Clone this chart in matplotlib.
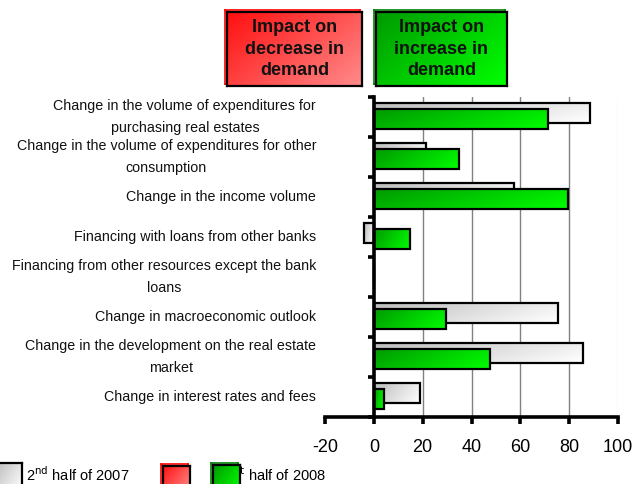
import numpy as np
import matplotlib
matplotlib.use("Agg")
import matplotlib.pyplot as plt
from matplotlib.colors import LinearSegmentedColormap
from matplotlib.patches import Rectangle

plt.rcParams['font.family'] = ['Liberation Sans', 'DejaVu Sans']

categories = [
    "Change in the volume of expenditures for\npurchasing real estates",
    "Change in the volume of expenditures for other\nconsumption",
    "Change in the income volume",
    "Financing with loans from other banks",
    "Financing from other resources except the bank\nloans",
    "Change in macroeconomic outlook",
    "Change in the development on the real estate\nmarket",
    "Change in interest rates and fees",
]
h2_2007 = [88.5, 21.5, 57.5, -4, 0, 75.5, 85.5, 19]
h1_2008 = [71.5, 35, 79.5, 15, 0, 29.5, 47.5, 4]
xticks = [-20, 0, 20, 40, 60, 80, 100]

W, H = 634, 484
fig = plt.figure(figsize=(W / 100, H / 100), dpi=100)

def fx(px):
    return px / W

def fy(py):
    return 1 - py / H

ax = fig.add_axes([fx(325), fy(416.7), fx(618) - fx(325), fy(97) - fy(416.7)])

gray_cmap = LinearSegmentedColormap.from_list("g", ["#bdbdbd", "#ffffff"])
green_cmap = LinearSegmentedColormap.from_list("gr", ["#009a00", "#00ff00"])
red_cmap = LinearSegmentedColormap.from_list("r", ["#ff1010", "#ff8a8a"])

yy = np.arange(len(categories))
gray_bars = ax.barh(yy - 0.1, h2_2007, height=0.5, facecolor='none',
                    edgecolor='black', linewidth=1.6, zorder=4)
green_bars = ax.barh(yy + 0.05, h1_2008, height=0.5, facecolor='none',
                     edgecolor='black', linewidth=1.6, zorder=6)

nx, ny = 64, 16
gx, gy = np.meshgrid(np.linspace(0, 1, nx), np.linspace(0, 1, ny))
grad = np.clip(0.75 * gx + 0.25 * gy, 0, 1)

def fill_gradient(bars, cmap, z):
    for p in bars.patches:
        w = p.get_width()
        if w == 0:
            continue
        x0, y0 = p.get_x(), p.get_y()
        hgt = p.get_height()
        xa, xb = min(x0, x0 + w), max(x0, x0 + w)
        back = Rectangle((xa, y0), xb - xa, hgt, facecolor='white',
                         edgecolor='none', zorder=z - 0.5)
        ax.add_patch(back)
        im = ax.imshow(grad, extent=[xa, xb, y0 + hgt, y0], cmap=cmap,
                       aspect='auto', interpolation='bilinear', zorder=z)
        im.set_clip_path(p)

fill_gradient(gray_bars, gray_cmap, 3)
fill_gradient(green_bars, green_cmap, 5)

ax.set_xlim(-20, 100)
ax.set_ylim(len(categories) - 0.5, -0.5)

for xv in [20, 40, 60, 80]:
    ax.axvline(xv, color='#808080', linewidth=1.0, zorder=1)
ax.axvline(100, color='#e6e6e6', linewidth=1.0, zorder=1)

for s in ['top', 'right']:
    ax.spines[s].set_visible(False)
ax.spines['left'].set_position(('data', 0))
ax.spines['left'].set_linewidth(2.6)
ax.spines['left'].set_zorder(8)
ax.spines['bottom'].set_linewidth(2.6)
ax.spines['bottom'].set_zorder(8)

ax.set_xticks(xticks)
ax.set_xticklabels([str(v) for v in xticks], fontsize=13)
ax.tick_params(axis='x', direction='out', length=5, width=2.6, pad=11)
ax.set_yticks(np.arange(-0.5, len(categories) + 0.5, 1.0))
ax.set_yticklabels([])
ax.tick_params(axis='y', direction='out', length=4, width=2.6)

for i, lab in enumerate(categories):
    ax.text(-0.03, i, lab, transform=ax.get_yaxis_transform(), ha='right',
            va='center', multialignment='center', fontsize=10.3,
            linespacing=1.75, color='#111111')

def grad_box(l, t, r, b, cmap, shadow_color, text=None, z=1):
    sax = fig.add_axes([fx(l - 2), fy(b - 2), fx(r - l), fy(t) - fy(b)])
    sax.set_xticks([]); sax.set_yticks([])
    sax.set_facecolor('none')
    sax.set_zorder(z)
    for s in sax.spines.values():
        s.set_color(shadow_color); s.set_linewidth(1.2)
    bax = fig.add_axes([fx(l), fy(b), fx(r - l), fy(t) - fy(b)])
    bax.set_zorder(z + 0.1)
    gx2, gy2 = np.meshgrid(np.linspace(0, 1, 40), np.linspace(0, 1, 40))
    g2 = np.clip(0.6 * gx2 + 0.4 * gy2, 0, 1)
    bax.imshow(g2, cmap=cmap, aspect='auto', extent=[0, 1, 1, 0],
               interpolation='bilinear')
    bax.set_xlim(0, 1); bax.set_ylim(1, 0)
    bax.set_xticks([]); bax.set_yticks([])
    for s in bax.spines.values():
        s.set_color('black'); s.set_linewidth(1.6)
    if text:
        bax.text(0.5, 0.5, text, ha='center', va='center', fontsize=13,
                 fontweight='bold', linespacing=1.38, color='#111111',
                 transform=bax.transAxes)
    return bax

grad_box(227, 12, 362, 86, red_cmap, '#ff0000', "Impact on\ndecrease in\ndemand")
grad_box(376, 12, 507, 86, green_cmap, '#008000', "Impact on\nincrease in\ndemand")

# bottom legend
fig.text(fx(26), fy(475), "2$^{\\mathrm{nd}}$ half of 2007", fontsize=10.5,
         ha='left', va='center', zorder=1)
fig.text(fx(226), fy(475), "1$^{\\mathrm{st}}$ half of 2008", fontsize=10.5,
         ha='left', va='center', zorder=1)
grad_box(-3, 463, 22, 490, gray_cmap, '#ffffff', z=5)
grad_box(163, 466, 190, 490, red_cmap, '#ff0000', z=5)
grad_box(213, 465, 240, 490, green_cmap, '#008000', z=5)

fig.savefig("out.png", dpi=100)
